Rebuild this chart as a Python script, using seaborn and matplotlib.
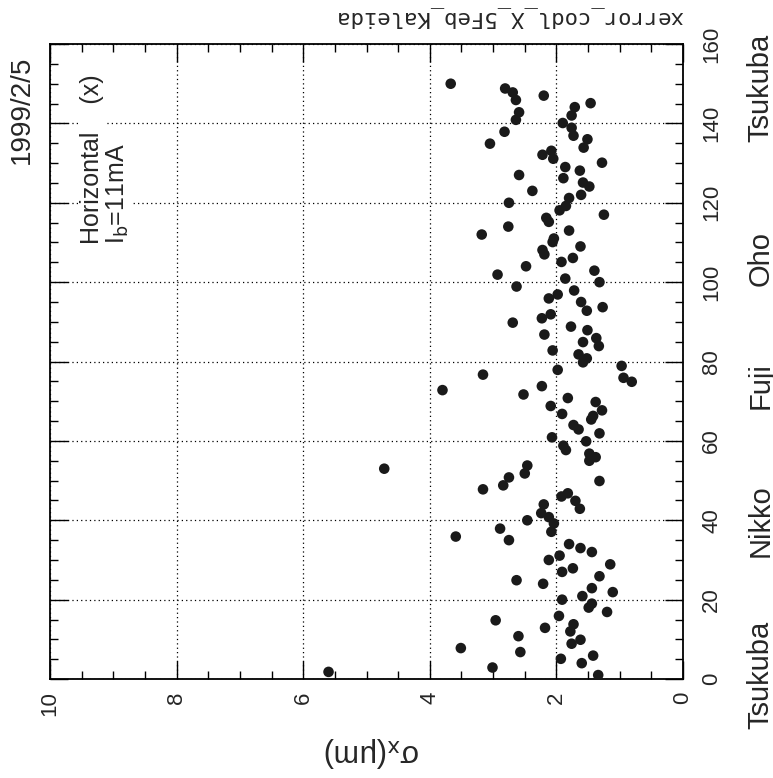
import numpy as np
import pandas as pd
import matplotlib
matplotlib.use("Agg")
import matplotlib.pyplot as plt
import seaborn as sns
from matplotlib.ticker import MultipleLocator

# position along the ring and horizontal error (um)
position = [150.0, 148.8, 147.8, 145.9, 147.0, 142.8, 140.9, 144.1, 142.0, 145.1,
            140.1, 138.9, 136.9, 137.9, 134.9, 136.0, 133.9, 132.1, 133.1, 131.1,
            130.1, 129.0, 128.1, 126.2, 127.0, 125.1, 124.1, 123.0, 122.0, 121.2,
            119.2, 118.1, 120.0, 117.0, 116.2, 115.2, 114.0, 112.0, 113.0, 111.0,
            110.1, 109.0, 108.1, 107.0, 105.1, 106.1, 104.0, 101.9, 102.9, 100.9,
            100.0, 98.9, 97.9, 95.9, 96.9, 95.0, 92.8, 93.7, 90.9, 91.9,
            89.8, 88.8, 87.9, 86.8, 85.9, 83.9, 84.9, 82.8, 81.8, 80.8,
            79.8, 78.9, 77.9, 75.9, 74.9, 76.7, 72.8, 73.8, 71.7, 70.8,
            68.8, 69.8, 67.7, 66.8, 66.3, 65.4, 64.0, 62.9, 61.9, 60.9,
            59.9, 58.8, 57.7, 56.8, 55.9, 55.0, 49.9, 53.8, 51.8, 50.8,
            48.8, 47.8, 46.8, 46.0, 44.9, 42.9, 44.0, 41.8, 40.8, 40.0,
            39.2, 37.1, 37.9, 35.9, 35.0, 34.0, 33.0, 32.0, 31.1, 30.0,
            28.9, 27.9, 27.0, 25.9, 24.9, 24.0, 22.9, 21.9, 20.9, 20.0,
            19.0, 18.0, 16.9, 15.9, 14.8, 13.8, 12.0, 12.9, 10.8, 9.9,
            8.9, 7.8, 6.8, 5.9, 5.1, 4.0, 2.9, 1.0, 53.0, 1.8]
sigma_x = [3.67, 2.81, 2.69, 2.64, 2.20, 2.59, 2.64, 1.71, 1.76, 1.46,
           1.90, 1.76, 1.73, 2.82, 3.05, 1.51, 1.57, 2.22, 2.08, 2.05,
           1.28, 1.86, 1.63, 1.89, 2.59, 1.58, 1.48, 2.38, 1.61, 1.80,
           1.85, 1.95, 2.75, 1.25, 2.16, 2.12, 2.76, 3.18, 1.80, 2.04,
           2.06, 1.62, 2.22, 2.19, 1.92, 1.74, 2.48, 2.93, 1.40, 1.86,
           1.32, 2.63, 1.72, 2.12, 1.98, 1.61, 1.52, 1.27, 2.23, 2.09,
           2.69, 1.77, 1.51, 2.19, 1.37, 1.33, 1.58, 2.06, 1.65, 1.52,
           1.58, 0.97, 1.98, 0.94, 0.81, 3.16, 3.80, 2.23, 2.52, 1.82,
           2.09, 1.38, 1.28, 1.91, 1.42, 1.45, 1.73, 1.65, 1.32, 2.07,
           1.53, 1.89, 1.85, 1.48, 1.38, 1.48, 1.32, 2.46, 2.50, 2.75,
           2.84, 3.16, 1.82, 1.92, 1.70, 1.63, 2.20, 2.24, 2.12, 2.46,
           2.04, 2.08, 2.89, 3.59, 2.75, 1.80, 1.62, 1.44, 1.95, 2.12,
           1.15, 1.74, 1.91, 1.32, 2.63, 2.21, 1.44, 1.11, 1.59, 1.91,
           1.44, 1.49, 1.20, 1.96, 2.96, 1.73, 1.78, 2.18, 2.60, 1.62,
           1.76, 3.51, 2.57, 1.42, 1.93, 1.60, 3.01, 1.34, 4.72, 5.60]

station_names = ["Tsukuba", "Nikko", "Fuji", "Oho", "Tsukuba"]
station_pos = [1, 40, 74, 106, 149]

df = pd.DataFrame({"pos": position, "sigma": sigma_x})

sns.set_style("ticks")
plt.rcParams["font.family"] = ["Liberation Sans", "DejaVu Sans"]

fig = plt.figure(figsize=(7.73, 7.78), dpi=100)
ax = fig.add_axes([0.0647, 0.1272, 0.8189, 0.8162])

sns.scatterplot(data=df, x="sigma", y="pos", s=58, color="#1a1a1a",
                edgecolor="none", ax=ax, legend=False, zorder=3)

ax.set_xlim(10, 0)
ax.set_ylim(0, 160)
ax.set_xlabel("")
ax.set_ylabel("")
ax.xaxis.set_major_locator(MultipleLocator(2))
ax.xaxis.set_minor_locator(MultipleLocator(0.5))
ax.set_yticks(range(0, 161, 20))
ax.set_yticklabels([str(v) for v in range(0, 161, 20)], rotation=90, va="center")
ax.yaxis.set_minor_locator(MultipleLocator(5))
ax.set_xticks(range(0, 11, 2))
ax.set_xticklabels([str(v) for v in range(0, 11, 2)], rotation=90, ha="center")

ax.grid(True, which="major", linestyle=(0, (1, 2.5)), color="k", linewidth=0.9)
ax.set_axisbelow(True)

ax.tick_params(which="both", direction="in", top=True, bottom=True, left=True,
               right=True, labelleft=False, labelright=True, color="k", width=1)
ax.tick_params(which="major", length=13)
ax.tick_params(which="minor", length=6)
ax.tick_params(axis="x", labelsize=16, pad=9)
ax.tick_params(axis="y", labelsize=16, pad=13)
for sp in ax.spines.values():
    sp.set_linewidth(1.3)
    sp.set_color("k")

box = dict(facecolor="white", edgecolor="none", pad=1)
ax.text(0.066, 0.685, "Horizontal    (x)", transform=ax.transAxes, rotation=90,
        ha="center", va="bottom", fontsize=18, bbox=box, zorder=4)
ax.text(0.108, 0.685, r"I$_{\rm b}$=11mA", transform=ax.transAxes, rotation=90,
        ha="center", va="bottom", fontsize=18, bbox=box, zorder=4)

trans = ax.get_yaxis_transform()
for name, p in zip(station_names, station_pos):
    ax.text(1.122, p, name, transform=trans, rotation=90, ha="center",
            va="center", fontsize=21, clip_on=False)

fig.text(22 / 773, 1 - 110 / 778, "1999/2/5", rotation=90, ha="center",
         va="center", fontsize=20)
fig.text(509 / 773, 1 - 17 / 778, "xerror_codl_X_5Feb_Kaleida", rotation=180,
         ha="center", va="center", fontsize=16, family="DejaVu Sans Mono")
fig.text(372 / 773, 1 - 752 / 778, r"σ$_{\rm x}$(μm)", rotation=180,
         ha="center", va="center", fontsize=22)

fig.savefig("out.png", dpi=100)
